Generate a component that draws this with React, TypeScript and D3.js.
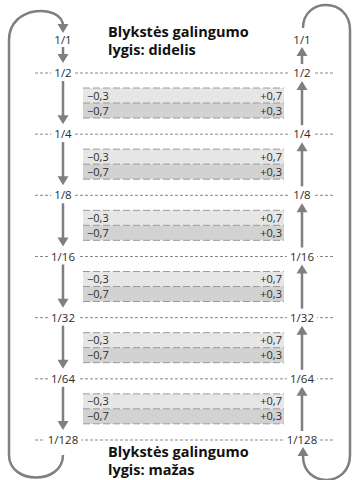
import React from "react";
import * as d3 from "d3";

const levels = ["1/2", "1/4", "1/8", "1/16", "1/32", "1/64", "1/128"];
const topLevel = "1/1";
const leftValues = ["\u22120,3", "\u22120,7"];
const rightValues = ["+0,7", "+0,3"];
const titleTop = ["Blykstės galingumo", "lygis: didelis"];
const titleBottom = ["Blykstės galingumo", "lygis: mažas"];

const W = 355;
const H = 480;
const FONT = "'Open Sans', 'Noto Sans', sans-serif";
const GRAY = "#7f7f7f";
const TXT = "#2b2b2b";

const y = d3.scaleLinear().domain([0, levels.length - 1]).range([73, 440]);
const xL = 63;
const xR = 302;
const bandX0 = 83;
const bandX1 = 284;

function ArrowHead({ x, tip, dir }: { x: number; tip: number; dir: "down" | "up" }) {
  const h = 9;
  const w = 5.5;
  const s = dir === "down" ? -1 : 1;
  const pts = `${x},${tip} ${x - w},${tip + s * h} ${x + w},${tip + s * h}`;
  return <polygon points={pts} fill={GRAY} />;
}

function VArrow({ x, from, to }: { x: number; from: number; to: number }) {
  const dir = to > from ? "down" : "up";
  const s = dir === "down" ? -1 : 1;
  return (
    <g>
      <line x1={x} x2={x} y1={from} y2={to + s * 7} stroke={GRAY} strokeWidth={2.5} />
      <ArrowHead x={x} tip={to} dir={dir} />
    </g>
  );
}

function LevelLabel({ x, yy, text }: { x: number; yy: number; text: string }) {
  const w = text.length * 6.5 + 4;
  return (
    <g>
      <rect x={x - w / 2} y={yy - 7} width={w} height={14} fill="#fff" />
      <text x={x} y={yy + 4} textAnchor="middle" fontSize={11.5} fontFamily={FONT} fill={TXT}>
        {text}
      </text>
    </g>
  );
}

export default function App() {
  const idx = d3.range(levels.length);
  const bandH = 15;
  return (
    <svg width={W} height={H} style={{ position: "absolute", left: 0, top: 0, background: "#fff" }}>
      {/* loops */}
      <path d={`M9,455 L9,40 C9,4 63,4 63,26`} fill="none" stroke={GRAY} strokeWidth={2.5} />
      <ArrowHead x={63} tip={33} dir="down" />
      <path d={`M9,455 C9,485 63,485 63,455`} fill="none" stroke={GRAY} strokeWidth={2.5} />
      <path d={`M303,28 C303,-3 350,-3 350,30 L350,455 C350,488 303,488 303,456`} fill="none" stroke={GRAY} strokeWidth={2.5} />
      <ArrowHead x={303} tip={447} dir="up" />

      {/* bands */}
      {idx.slice(0, -1).map((i) => {
        const y0 = y(i) + 15;
        return (
          <g key={"b" + i}>
            <rect x={bandX0} y={y0} width={bandX1 - bandX0} height={bandH} fill="#e6e6e6" />
            <rect x={bandX0} y={y0 + bandH} width={bandX1 - bandX0} height={bandH} fill="#d2d2d2" />
            {[0, 1, 2].map((k) => (
              <line key={k} x1={bandX0} x2={bandX1} y1={y0 + k * bandH} y2={y0 + k * bandH} stroke="#9a9a9a" strokeWidth={1} strokeDasharray="7,3" />
            ))}
            {leftValues.map((v, k) => (
              <text key={"l" + k} x={bandX0 + 4} y={y0 + k * bandH + 11.5} fontSize={11} fontFamily={FONT} fill={TXT}>{v}</text>
            ))}
            {rightValues.map((v, k) => (
              <text key={"r" + k} x={bandX1 - 2} y={y0 + k * bandH + 11.5} fontSize={11} fontFamily={FONT} fill={TXT} textAnchor="end">{v}</text>
            ))}
            <VArrow x={xL} from={y(i) + 8} to={y(i + 1) - 10} />
            <VArrow x={xR} from={y(i + 1) - 9} to={y(i) + 8} />
          </g>
        );
      })}

      {/* top arrows */}
      <VArrow x={xL} from={47} to={63} />
      <VArrow x={xR} from={64} to={47} />
      <text x={xL} y={44} textAnchor="middle" fontSize={11.5} fontFamily={FONT} fill={TXT}>{topLevel}</text>
      <text x={xR} y={44} textAnchor="middle" fontSize={11.5} fontFamily={FONT} fill={TXT}>{topLevel}</text>

      {/* level dashed lines */}
      {levels.map((l, i) => (
        <g key={l}>
          <line x1={35} x2={334} y1={y(i)} y2={y(i)} stroke="#888" strokeWidth={1} strokeDasharray="3,2" />
          <LevelLabel x={xL} yy={y(i)} text={l} />
          <LevelLabel x={xR} yy={y(i)} text={l} />
        </g>
      ))}

      {/* titles */}
      {titleTop.map((t, k) => (
        <text key={"tt" + k} x={108} y={37 + k * 18} fontSize={14.5} fontWeight="bold" fontFamily={FONT} fill="#111">{t}</text>
      ))}
      {titleBottom.map((t, k) => (
        <text key={"tb" + k} x={108} y={457 + k * 18} fontSize={14.5} fontWeight="bold" fontFamily={FONT} fill="#111">{t}</text>
      ))}
    </svg>
  );
}
